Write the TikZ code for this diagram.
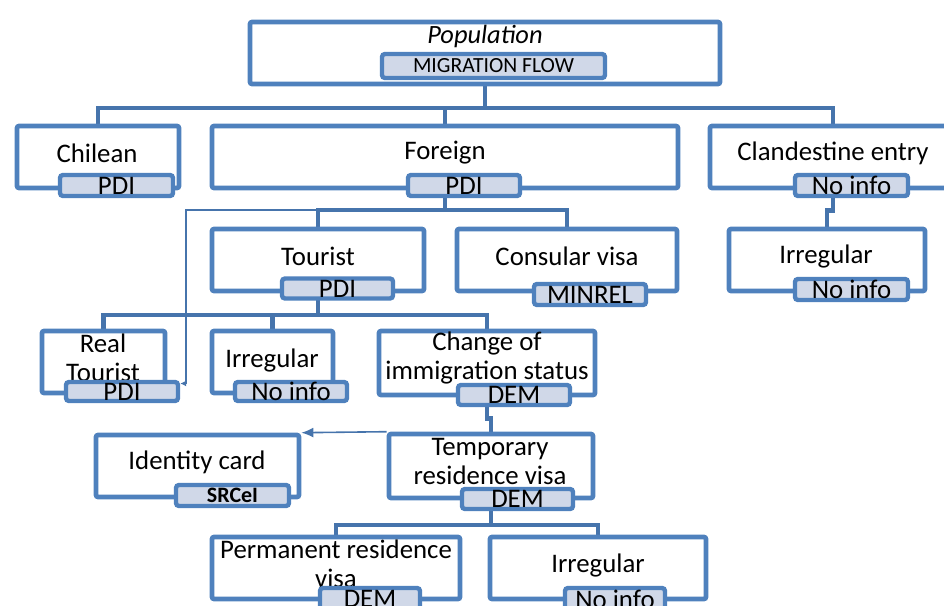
\documentclass[tikz,border=0pt]{standalone}
\usepackage{fontspec}
\setmainfont{Carlito}
\usetikzlibrary{arrows.meta}
\usetikzlibrary{backgrounds}
\definecolor{boxblue}{RGB}{79,129,189}
\definecolor{linkblue}{RGB}{70,116,172}
\definecolor{srcfill}{RGB}{208,216,232}

\begin{document}
\begin{tikzpicture}[x=0.5pt,y=-0.5pt,
    mainbox/.style={draw=boxblue,line width=2.3pt,fill=white,rounded corners=1pt,inner sep=0pt},
    srcbox/.style={draw=boxblue,line width=2.2pt,fill=srcfill,rounded corners=1.5pt,inner sep=0pt,font=\fontsize{13.4}{14}\selectfont},
    boxtext/.style={inner sep=0pt,align=center,font=\fontsize{13.4}{14.5}\selectfont},
    link/.style={draw=linkblue,line width=2.2pt},
    thinlink/.style={draw=linkblue,line width=0.8pt}]
        \useasboundingbox (0,0) rectangle (944,606);

        % top
        \node[mainbox,minimum width=235pt,minimum height=31pt] (pop) at (485,53) {};
        \node[boxtext,font=\fontsize{13.2}{14.5}\selectfont\itshape] (poptext) at (485,36) {Population};
        \node[srcbox,minimum width=111.5pt,minimum height=12pt,font=\fontsize{10.8}{12}\selectfont] (migsrc) at (493.5,66) {MIGRATION FLOW};

        % first line
        \node[mainbox,minimum width=81pt,minimum height=31pt] (chilean) at (98,157) {};
        \node[mainbox,minimum width=233pt,minimum height=31pt] (foreign) at (445,157) {};
        \node[mainbox,minimum width=123pt,minimum height=31pt] (clandest) at (833,157) {};
        \node[boxtext] (chileantext) at (97,153) {Chilean};
        \node[boxtext] (foreigntext) at (445,153) {Foreign};
        \node[boxtext] (clandesttext) at (833,153) {Clandestine entry};
        \node[srcbox,minimum width=56.5pt,minimum height=10.5pt] (chilsrc) at (116.5,185.5) {PDI};
        \node[srcbox,minimum width=56pt,minimum height=10.5pt] (forsrc) at (464,185.5) {PDI};
        \node[srcbox,minimum width=56.5pt,minimum height=10.5pt] (clansrc) at (851.5,185.5) {No info};

        % sec line
        \node[mainbox,minimum width=106pt,minimum height=31pt] (tourist) at (318,260) {};
        \node[mainbox,minimum width=110pt,minimum height=31pt] (consular) at (567,260) {};
        \node[mainbox,minimum width=98pt,minimum height=31pt] (irregr) at (827,260) {};
        \node[boxtext] (touristtext) at (318,256) {Tourist};
        \node[boxtext] (consulartext) at (567,256) {Consular visa};
        \node[boxtext] (irregrtext) at (826,256) {Irregular};
        \node[srcbox,minimum width=55.5pt,minimum height=10pt] (toursrc) at (337.5,288.5) {PDI};
        \node[srcbox,minimum width=56pt,minimum height=10.5pt] (consrc) at (590,294.5) {MINREL};
        \node[srcbox,minimum width=56.5pt,minimum height=10.5pt] (irrrsrc) at (851.5,289.5) {No info};

        % third line
        \node[mainbox,minimum width=61.5pt,minimum height=31pt] (realtour) at (103.5,362) {};
        \node[mainbox,minimum width=60.5pt,minimum height=31pt] (irregm) at (272.5,362) {};
        \node[mainbox,minimum width=108pt,minimum height=32pt] (change) at (487,363) {};
        \node[boxtext] (realtext) at (103,358) {Real\\Tourist};
        \node[boxtext] (irregmtext) at (272,360) {Irregular};
        \node[boxtext] (changetext) at (487,358) {Change of\\immigration status};
        \node[srcbox,minimum width=56pt,minimum height=9.5pt] (realsrc) at (122,391.5) {PDI};
        \node[srcbox,minimum width=56pt,minimum height=9.5pt] (irrmsrc) at (291,391.5) {No info};
        \node[srcbox,minimum width=56pt,minimum height=10pt] (changesrc) at (514,395) {DEM};

        % fourth line
        \node[mainbox,minimum width=101.5pt,minimum height=31pt] (idcard) at (197.5,466) {};
        \node[mainbox,minimum width=102pt,minimum height=32pt] (temp) at (491,466) {};
        \node[boxtext] (idtext) at (197,462) {Identity card};
        \node[boxtext] (temptext) at (490,461) {Temporary\\residence visa};
        \node[srcbox,minimum width=56.5pt,minimum height=10.5pt,font=\fontsize{11}{12}\selectfont\bfseries] (idsrc) at (232.5,495.5) {SRCeI};
        \node[srcbox,minimum width=55.5pt,minimum height=10pt] (tempsrc) at (517.5,499) {DEM};

        % bottom line
        \node[mainbox,minimum width=124pt,minimum height=31pt] (perm) at (336,568) {};
        \node[mainbox,minimum width=108pt,minimum height=31pt] (irregb) at (598,568) {};
        \node[boxtext] (permtext) at (336,564) {Permanent residence\\visa};
        \node[boxtext] (irregbtext) at (598,565) {Irregular};
        \node[srcbox,minimum width=50pt,minimum height=11pt] (permsrc) at (370,599) {DEM};
        \node[srcbox,minimum width=50pt,minimum height=11pt] (irrbsrc) at (615,599) {No info};

        % connectors
        \coordinate (bar1) at (0,108);
        \coordinate (bar2) at (0,210);
        \coordinate (bar3) at (0,315);
        \coordinate (bar4) at (0,525);
        \coordinate (bend) at (186,210);
        \begin{scope}[on background layer]
            \draw[link] (pop.south) -- (pop.south |- bar1) -| (chilean.north);
            \draw[link] (pop.south |- bar1) -| (foreign.north);
            \draw[link] (pop.south |- bar1) -| (clandest.north);
            \draw[link] (foreign.south) -- (foreign.south |- bar2) -| (tourist.north);
            \draw[link] (foreign.south |- bar2) -| (consular.north);
            \draw[link] (clandest.south) -- ++(0,20) -| (irregr.north);
            \draw[link] (tourist.south) -- (tourist.south |- bar3) -| (realtour.north);
            \draw[link] (tourist.south |- bar3) -| (irregm.north);
            \draw[link] (tourist.south |- bar3) -| (change.north);
            \draw[link] (change.south) -- ++(0,21) -| (temp.north);
            \draw[link] (temp.south) -- (temp.south |- bar4) -| (perm.north);
            \draw[link] (temp.south |- bar4) -| (irregb.north);
            \draw[thinlink,-{Latex[length=3pt,width=3pt]}] (tourist.north |- bar2) -- (bend) |- ([yshift=4pt]realsrc.east);
        \end{scope}
        \draw[thinlink,-{Latex[length=6pt,width=5pt]}] (temp.north west) -- (idcard.north east);
\end{tikzpicture}
\end{document}
